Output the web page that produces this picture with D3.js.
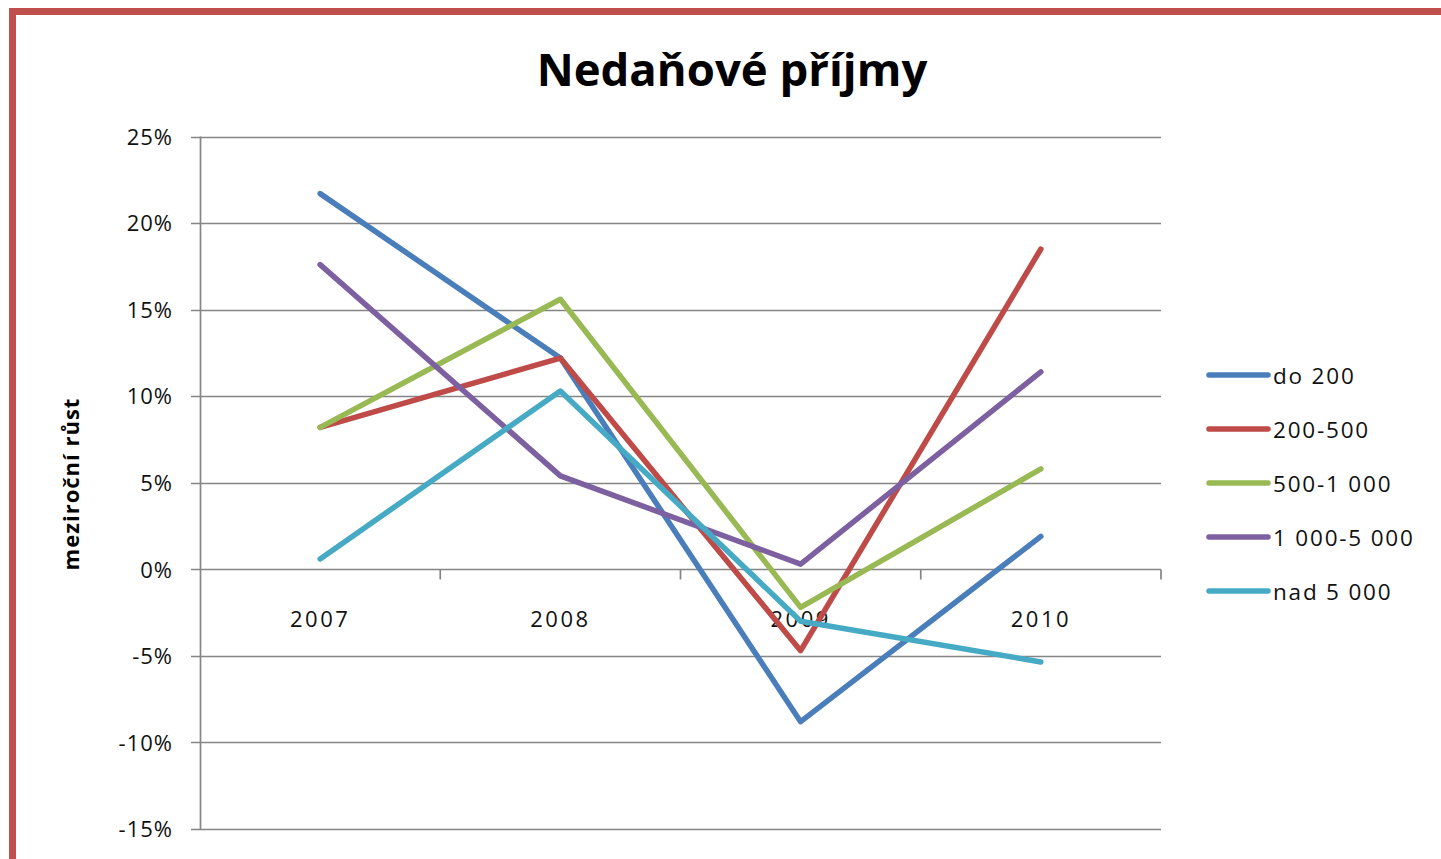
<!DOCTYPE html>
<html>
<head>
<meta charset="utf-8">
<script src="https://d3js.org/d3.v7.min.js"></script>
<style>
html,body{margin:0;padding:0;background:#fff;overflow:hidden;}
svg{display:block;}
</style>
</head>
<body>
<svg id="chart" width="1441" height="859"></svg>
<script>
const title = "Nedaňové příjmy";
const yAxisTitle = "meziroční růst";
const categories = ["2007", "2008", "2009", "2010"];
const seriesNames = ["do 200", "200-500", "500-1 000", "1 000-5 000", "nad 5 000"];
const doo200 = [21.7, 12.2, -8.8, 1.9];
const s200_500 = [8.2, 12.2, -4.7, 18.5];
const s500_1000 = [8.2, 15.6, -2.2, 5.8];
const s1000_5000 = [17.6, 5.4, 0.3, 11.4];
const nad5000 = [0.6, 10.3, -3.0, -5.35];
const yTicks = [25, 20, 15, 10, 5, 0, -5, -10, -15];
const colors = ["#4A7EBB", "#BE4B48", "#98B954", "#7D60A0", "#46AAC5"];

const seriesValues = [doo200, s200_500, s500_1000, s1000_5000, nad5000];
const series = seriesNames.map((n, i) => ({name: n, values: seriesValues[i], color: colors[i]}));

const svg = d3.select("#chart");
const font = "'Open Sans', 'DejaVu Sans', sans-serif";

// border
svg.append("rect").attr("x", 12.5).attr("y", 11.5).attr("width", 1600).attr("height", 1000)
  .attr("fill", "none").attr("stroke", "#C0504D").attr("stroke-width", 7);

const plotLeft = 200, plotRight = 1161, plotTop = 136.5, plotBottom = 829;
const x = d3.scaleBand().domain(categories).range([plotLeft, plotRight]).paddingInner(0).paddingOuter(0);
const y = d3.scaleLinear().domain([-15, 25]).range([plotBottom, plotTop]);

// title
svg.append("text").attr("x", 732).attr("y", 86).attr("text-anchor", "middle")
  .attr("font-family", font).attr("font-weight", "bold").attr("font-size", 45.5)
  .attr("fill", "#000").text(title);

// gridlines
const gridColor = "#858585";
svg.append("g").selectAll("line").data(yTicks).join("line")
  .attr("x1", plotLeft - 9).attr("x2", plotRight)
  .attr("y1", d => Math.round(y(d)) + 0.5).attr("y2", d => Math.round(y(d)) + 0.5)
  .attr("stroke", gridColor).attr("stroke-width", 1.7);

// y axis
const yAxis = d3.axisLeft(y).tickValues(yTicks).tickSize(0).tickPadding(0).tickFormat(d => d + "%");
const gy = svg.append("g").attr("transform", `translate(${plotLeft},0)`).call(yAxis);
gy.select(".domain").remove();
gy.selectAll("text").attr("x", -27).attr("font-family", font).attr("font-size", 22)
  .attr("fill", "#111").attr("dy", "0.35em").attr("letter-spacing", 1);
svg.append("line").attr("x1", plotLeft + 0.5).attr("x2", plotLeft + 0.5)
  .attr("y1", plotTop).attr("y2", plotBottom).attr("stroke", gridColor).attr("stroke-width", 1.7);

// x axis at 0
const y0 = Math.round(y(0)) + 0.5;
const xAxis = d3.axisBottom(x).tickSize(0).tickPadding(0);
const gx = svg.append("g").attr("transform", `translate(0,${y0})`).call(xAxis);
gx.select(".domain").remove();
gx.selectAll("text").attr("y", 57).attr("dy", 0).attr("font-family", font).attr("font-size", 22)
  .attr("fill", "#111").attr("letter-spacing", 2.5);
// category boundary ticks
const boundaries = categories.slice(1).map(c => x(c)).concat([x(categories[categories.length - 1]) + x.bandwidth()]);
svg.append("g").selectAll("line").data(boundaries).join("line")
  .attr("x1", d => d).attr("x2", d => d).attr("y1", y0).attr("y2", y0 + 10)
  .attr("stroke", gridColor).attr("stroke-width", 1.7);

// y axis title
svg.append("text").attr("transform", `translate(79,484) rotate(-90)`).attr("text-anchor", "middle")
  .attr("font-family", font).attr("font-weight", "bold").attr("font-size", 22)
  .attr("fill", "#000").attr("letter-spacing", 1).text(yAxisTitle);

// lines
const line = d3.line().x((d, i) => x(categories[i]) + x.bandwidth() / 2).y(d => y(d));
svg.append("g").selectAll("path").data(series).join("path")
  .attr("d", d => line(d.values)).attr("fill", "none").attr("stroke", d => d.color)
  .attr("stroke-width", 5.5).attr("stroke-linejoin", "round").attr("stroke-linecap", "round");

// legend
const lg = svg.append("g");
series.forEach((s, i) => {
  const ly = 375 + i * 54;
  lg.append("line").attr("x1", 1209).attr("x2", 1268).attr("y1", ly).attr("y2", ly)
    .attr("stroke", s.color).attr("stroke-width", 5.5).attr("stroke-linecap", "round");
  lg.append("text").attr("x", 1273).attr("y", ly + 1).attr("dy", "0.35em")
    .attr("font-family", font).attr("font-size", 22.5).attr("fill", "#111")
    .attr("letter-spacing", 1.8).text(s.name);
});
</script>
</body>
</html>
